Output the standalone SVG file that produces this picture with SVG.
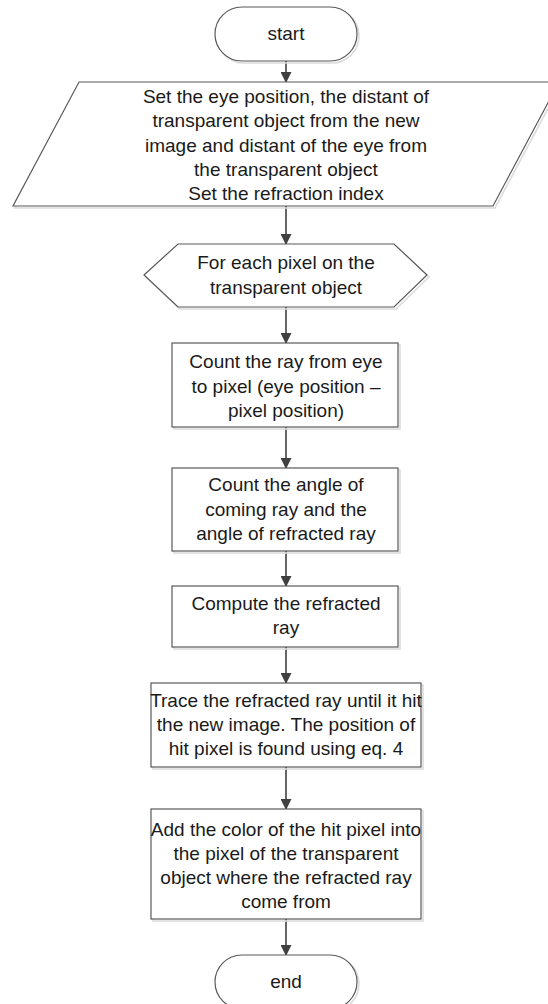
<svg xmlns="http://www.w3.org/2000/svg" width="548" height="1004" viewBox="0 0 548 1004">
<style>
.shape{fill:#ffffff;stroke:#595959;stroke-width:1.2}
.shadow{fill:none;stroke:#dcdcdc;stroke-width:1.6}
.lbl{font-family:"Liberation Sans",Arial,sans-serif;font-size:19px;fill:#1a1a1a;text-anchor:middle}
.conn{stroke:#404040;stroke-width:1.6;fill:none}
</style>
<defs>
<marker id="arr" markerWidth="12" markerHeight="11" refX="11" refY="6" orient="auto" markerUnits="userSpaceOnUse" viewBox="0 0 12 12">
<path d="M0,0 L12,6 L0,12 Z" fill="#404040"/>
</marker>
</defs>
<rect width="548" height="1004" fill="#ffffff"/>
<g id="connectors">
<line class="conn" x1="286" y1="61" x2="286" y2="82" marker-end="url(#arr)"/>
<line class="conn" x1="286" y1="206" x2="286" y2="244" marker-end="url(#arr)"/>
<line class="conn" x1="286" y1="307" x2="286" y2="343" marker-end="url(#arr)"/>
<line class="conn" x1="286" y1="427" x2="286" y2="468" marker-end="url(#arr)"/>
<line class="conn" x1="286" y1="551" x2="286" y2="586" marker-end="url(#arr)"/>
<line class="conn" x1="286" y1="647" x2="286" y2="683" marker-end="url(#arr)"/>
<line class="conn" x1="286" y1="767" x2="286" y2="809" marker-end="url(#arr)"/>
<line class="conn" x1="286" y1="919" x2="286" y2="955" marker-end="url(#arr)"/>
</g>
<g id="start">
<rect class="shadow" x="217" y="9" width="142" height="54" rx="27"/>
<rect class="shape" x="215" y="7" width="142" height="54" rx="27"/>
<text class="lbl" x="286" y="40">start</text>
</g>
<g id="input">
<polygon class="shadow" points="81,84 561,84 495,208 15,208"/>
<polygon class="shape" points="79,82 559,82 493,206 13,206"/>
<text class="lbl" x="286" y="103">Set the eye position, the distant of</text>
<text class="lbl" x="286" y="127">transparent object from the new</text>
<text class="lbl" x="286" y="152">image and distant of the eye from</text>
<text class="lbl" x="286" y="176">the transparent object</text>
<text class="lbl" x="286" y="200">Set the refraction index</text>
</g>
<g id="loop">
<polygon class="shadow" points="146,277 180,246 396,246 429,277 396,309 180,309"/>
<polygon class="shape" points="144,275 178,244 394,244 427,275 394,307 178,307"/>
<text class="lbl" x="286" y="269">For each pixel on the</text>
<text class="lbl" x="286" y="294">transparent object</text>
</g>
<g id="count-ray">
<rect class="shadow" x="174" y="345" width="226" height="84"/>
<rect class="shape" x="172" y="343" width="226" height="84"/>
<text class="lbl" x="286" y="368">Count the ray from eye</text>
<text class="lbl" x="286" y="393">to pixel (eye position –</text>
<text class="lbl" x="286" y="417">pixel position)</text>
</g>
<g id="count-angle">
<rect class="shadow" x="174" y="470" width="226" height="83"/>
<rect class="shape" x="172" y="468" width="226" height="83"/>
<text class="lbl" x="286" y="491">Count the angle of</text>
<text class="lbl" x="286" y="516">coming ray and the</text>
<text class="lbl" x="286" y="540">angle of refracted ray</text>
</g>
<g id="compute">
<rect class="shadow" x="174" y="588" width="226" height="61"/>
<rect class="shape" x="172" y="586" width="226" height="61"/>
<text class="lbl" x="286" y="610">Compute the refracted</text>
<text class="lbl" x="286" y="634">ray</text>
</g>
<g id="trace">
<rect class="shadow" x="153" y="685" width="270" height="84"/>
<rect class="shape" x="151" y="683" width="270" height="84"/>
<text class="lbl" x="286" y="707">Trace the refracted ray until it hit</text>
<text class="lbl" x="286" y="731">the new image. The position of</text>
<text class="lbl" x="286" y="755">hit pixel is found using eq. 4</text>
</g>
<g id="add-color">
<rect class="shadow" x="153" y="811" width="270" height="110"/>
<rect class="shape" x="151" y="809" width="270" height="110"/>
<text class="lbl" x="286" y="836">Add the color of the hit pixel into</text>
<text class="lbl" x="286" y="860">the pixel of the transparent</text>
<text class="lbl" x="286" y="884">object where the refracted ray</text>
<text class="lbl" x="286" y="908">come from</text>
</g>
<g id="end">
<rect class="shadow" x="217" y="957" width="142" height="54" rx="27"/>
<rect class="shape" x="215" y="955" width="142" height="54" rx="27"/>
<text class="lbl" x="286" y="988">end</text>
</g>
</svg>
